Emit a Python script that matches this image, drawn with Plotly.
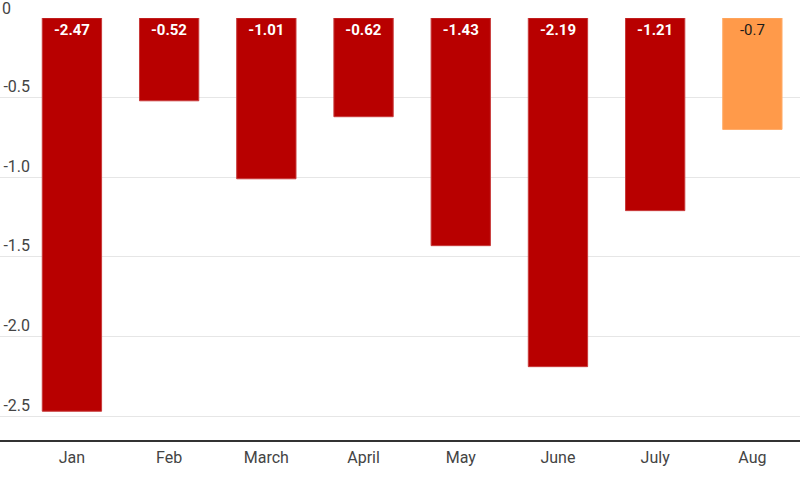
import plotly.graph_objects as go

months = ["Jan", "Feb", "March", "April", "May", "June", "July", "Aug"]
values = [-2.47, -0.52, -1.01, -0.62, -1.43, -2.19, -1.21, -0.7]
bar_colors = ["#b80000"] * 7 + ["#ff9a4a"]
line_colors = ["#c83a3a"] * 7 + ["#ffad6a"]
label_colors = ["#ffffff"] * 7 + ["#1a1a1a"]
label_texts = ["<b>%s</b>" % v for v in values[:7]] + [str(values[7])]
tick_vals = [0, -0.5, -1.0, -1.5, -2.0, -2.5]
tick_text = ["", "-0.5", "-1.0", "-1.5", "-2.0", "-2.5"]
zero_label = "0"

fig = go.Figure()
fig.add_trace(go.Bar(
    x=months, y=values,
    marker=dict(color=bar_colors, line=dict(color=line_colors, width=1)),
    text=label_texts, textposition="inside", insidetextanchor="start",
    textfont=dict(color=label_colors, size=15, family="Roboto"),
    textangle=0, cliponaxis=False,
))

fig.add_annotation(
    xref="paper", yref="y", x=0, y=0, xanchor="left", yanchor="middle",
    yshift=10, text=zero_label, showarrow=False,
    font=dict(size=16, color="#444444", family="Roboto"),
)

# bottom baseline across the full width
fig.add_shape(type="line", xref="paper", yref="paper", x0=0, x1=1, y0=0, y1=0,
              line=dict(color="#333333", width=2), layer="above")

fig.update_layout(
    width=800, height=480,
    margin=dict(l=0, r=0, t=18, b=39),
    paper_bgcolor="white", plot_bgcolor="white",
    bargap=0.39, showlegend=False,
    font=dict(family="Roboto", color="#444444"),
)
fig.update_xaxes(
    range=[-0.74, 7.49], showgrid=False, showline=False, automargin=False,
    ticks="", tickfont=dict(size=16, color="#444444"),
    ticklabelstandoff=5,
)
fig.update_yaxes(
    range=[-2.657, 0], tickvals=tick_vals, ticktext=tick_text, automargin=False,
    showgrid=True, gridcolor="#e6e6e6", gridwidth=1, zeroline=False,
    showline=False, ticks="", tickfont=dict(size=16, color="#444444"),
    ticklabelposition="outside", ticklabelshift=-11, ticklabelstandoff=-31,
)

fig.write_html("out.html", config={"displayModeBar": False},
               post_script="document.body.style.margin='0';")
